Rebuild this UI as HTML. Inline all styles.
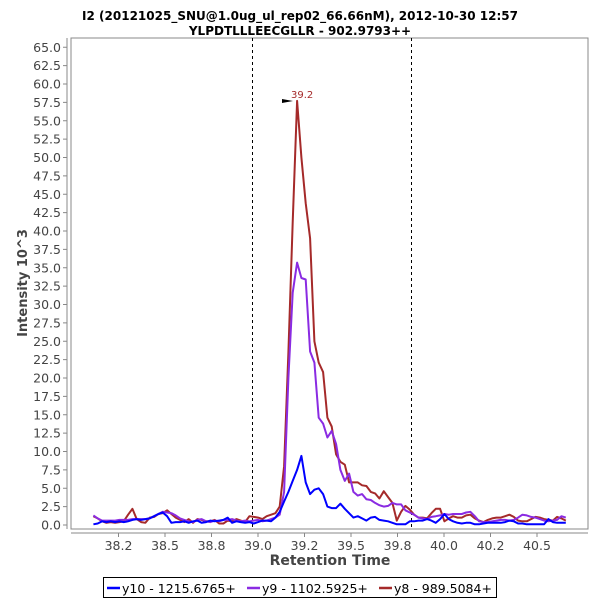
<!DOCTYPE html>
<html><head><meta charset="utf-8"><style>
body{margin:0;background:#fff;}
svg text{font-family:"DejaVu Sans","Liberation Sans",sans-serif;}
</style></head><body>
<svg id="chart" width="600" height="600" xmlns="http://www.w3.org/2000/svg">
<text x="300" y="20" text-anchor="middle" font-size="12" font-weight="bold" fill="#000">I2 (20121025_SNU@1.0ug_ul_rep02_66.66nM), 2012-10-30 12:57</text>
<text x="300" y="35" text-anchor="middle" font-size="12" font-weight="bold" fill="#000">YLPDTLLLEECGLLR - 902.9793++</text>
<rect x="71" y="38" width="517" height="491" fill="#fff" stroke="#888" stroke-width="1"/>
<line x1="67" y1="38" x2="67" y2="529" stroke="#888"/>
<line x1="71" y1="533" x2="588" y2="533" stroke="#888"/>
<g id="yticks"></g><g id="xticks"></g>
<g id="markers"></g>
<g id="series"></g>
<text transform="translate(27,283) rotate(-90)" text-anchor="middle" font-size="13" font-weight="bold" fill="#444">Intensity 10^3</text>
<text x="330" y="565" text-anchor="middle" font-size="14" font-weight="bold" fill="#444">Retention Time</text>
<g id="peak-annot">
<polygon points="282,99 282,103 293,101" fill="#000"/>
<text x="291" y="98" font-size="10" fill="#a52a2a">39.2</text>
</g>
<g>
<rect x="103.5" y="577.5" width="393" height="20" fill="#fff" stroke="#000"/>
<line x1="107" y1="588" x2="120" y2="588" stroke="#0000ff" stroke-width="2.5"/>
<text x="122" y="593" font-size="12.5" fill="#000">y10 - 1215.6765+</text>
<line x1="247" y1="588" x2="260" y2="588" stroke="#8a2be2" stroke-width="2.5"/>
<text x="262" y="593" font-size="12.5" fill="#000">y9 - 1102.5925+</text>
<line x1="379" y1="588" x2="392" y2="588" stroke="#a52a2a" stroke-width="2.5"/>
<text x="394" y="593" font-size="12.5" fill="#000">y8 - 989.5084+</text>
</g>
</svg>
<script>
const t0 = 38.115;
const dt = 0.0233;
const y8Values = [1.2,0.9,0.5,0.3,0.4,0.3,0.4,0.5,1.4,2.2,0.8,0.4,0.3,1.0,1.1,1.5,1.6,2.0,1.5,1.0,0.7,0.4,0.8,0.3,0.8,0.7,0.5,0.5,0.7,0.2,0.2,0.6,0.5,0.8,0.6,0.4,1.2,1.1,1.0,0.8,1.2,1.4,1.6,2.5,8.0,23.5,41.2,57.7,50.0,43.8,39.0,25.0,22.1,20.8,14.6,13.4,9.6,8.6,8.2,5.8,5.8,5.8,5.4,5.3,4.5,4.3,3.6,4.6,3.8,3.0,0.6,1.8,2.6,2.1,1.4,1.0,1.0,0.9,1.6,2.2,2.2,0.5,0.9,1.2,1.0,1.0,1.3,1.4,0.9,0.6,0.4,0.7,0.9,1.0,1.0,1.2,1.4,1.1,0.6,0.5,0.5,0.8,1.1,1.0,0.8,0.7,0.6,1.1,0.9,0.6];
const y9Values = [1.3,0.9,0.6,0.6,0.6,0.6,0.7,0.7,0.7,0.8,0.8,0.8,0.8,0.9,1.2,1.5,1.8,1.7,1.6,1.3,0.9,0.7,0.5,0.4,0.7,0.8,0.5,0.4,0.6,0.5,0.7,0.7,0.8,0.6,0.5,0.6,0.5,0.6,0.7,0.5,0.6,0.8,1.0,1.4,4.5,20.0,31.6,35.7,33.6,33.4,23.6,22.1,14.6,13.8,11.9,12.8,11.0,7.5,6.0,7.0,4.5,4.0,4.2,3.5,3.4,3.0,2.7,2.5,2.6,3.0,2.8,2.8,2.0,1.7,1.4,1.0,0.9,0.8,1.1,1.2,1.3,1.5,1.4,1.5,1.5,1.5,1.7,1.8,1.2,0.5,0.4,0.4,0.5,0.6,0.7,0.7,0.6,0.7,1.0,1.4,1.3,1.1,1.0,0.8,0.6,0.5,0.6,0.7,1.2,1.0];
const y10Values = [0.1,0.2,0.5,0.4,0.5,0.4,0.5,0.4,0.5,0.7,0.8,0.7,0.8,0.9,1.2,1.5,1.7,1.2,0.3,0.4,0.4,0.5,0.3,0.5,0.6,0.3,0.4,0.6,0.5,0.6,0.7,1.0,0.3,0.5,0.4,0.3,0.4,0.2,0.4,0.6,0.6,0.5,1.0,1.8,3.2,4.5,6.0,7.5,9.4,5.8,4.2,4.8,5.0,4.2,2.5,2.3,2.3,2.9,2.2,1.6,1.0,1.2,0.9,0.6,1.0,1.1,0.7,0.6,0.5,0.3,0.1,0.1,0.1,0.5,0.5,0.6,0.6,0.8,0.6,0.3,0.8,1.5,0.8,0.5,0.3,0.2,0.3,0.3,0.1,0.1,0.2,0.3,0.3,0.3,0.3,0.4,0.6,0.5,0.2,0.2,0.1,0.1,0.1,0.1,0.1,0.8,0.4,0.3,0.3,0.3];
const xTickValues = [38.25,38.5,38.75,39.0,39.25,39.5,39.75,40.0,40.25,40.5];
const xTickLabels = ["38.2","38.5","38.8","39.0","39.2","39.5","39.8","40.0","40.2","40.5"];
const yTickValues = [0,2.5,5,7.5,10,12.5,15,17.5,20,22.5,25,27.5,30,32.5,35,37.5,40,42.5,45,47.5,50,52.5,55,57.5,60,62.5,65];
const boundaryTimes = [38.97, 39.82];

const NS = "http://www.w3.org/2000/svg";
function xScale(t){ return 258 + (t - 39) * 186; }
function yScale(v){ return 525 - v * 7.35; }
function mk(tag, attrs){ const e = document.createElementNS(NS, tag); for (const k in attrs) e.setAttribute(k, attrs[k]); return e; }

const yt = document.getElementById('yticks');
yTickValues.forEach(v => {
  const y = yScale(v);
  const l = mk('line', {x1:63, x2:67, y1:y, y2:y, stroke:'#888'});
  
  
  yt.appendChild(l);
  const tx = mk('text', {x:61, y:y+4.5, 'text-anchor':'end', 'font-size':12.5, fill:'#444'});
  tx.textContent = v.toFixed(1);
  
  
  yt.appendChild(tx);
});
const xt = document.getElementById('xticks');
xTickValues.forEach((v, i) => {
  const x = xScale(v);
  const l = mk('line', {x1:x, x2:x, y1:533, y2:537, stroke:'#888'});
  
  
  xt.appendChild(l);
  const tx = mk('text', {x:x, y:550, 'text-anchor':'middle', 'font-size':12.5, fill:'#444'});
  tx.textContent = xTickLabels[i];
  
  
  xt.appendChild(tx);
});
const mg = document.getElementById('markers');
boundaryTimes.forEach(t => {
  const x = Math.round(xScale(t)) + 0.5;
  const l = mk('line', {x1:x, x2:x, y1:38, y2:529, stroke:'#000', 'stroke-width':1, 'stroke-dasharray':'3,3'});
  
  
  mg.appendChild(l);
});
const sg = document.getElementById('series');
function drawSeries(vals, color, name){
  const pts = vals.map((v, i) => xScale(t0 + i * dt).toFixed(1) + ',' + yScale(v).toFixed(1)).join(' ');
  const p = mk('polyline', {points:pts, fill:'none', stroke:color, 'stroke-width':2, 'stroke-linejoin':'round'});
  
  
  sg.appendChild(p);
}
drawSeries(y8Values, '#a52a2a', 'series-y8');
drawSeries(y9Values, '#8a2be2', 'series-y9');
drawSeries(y10Values, '#0000ff', 'series-y10');
</script>
</body></html>
